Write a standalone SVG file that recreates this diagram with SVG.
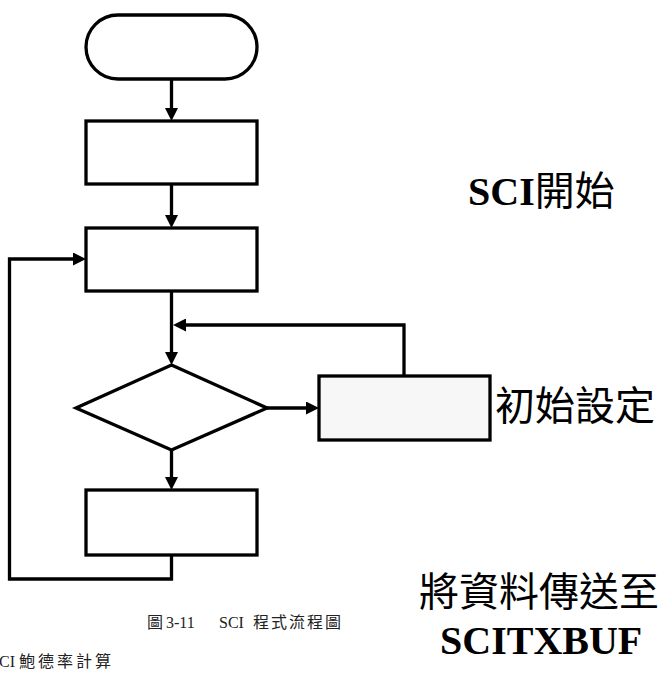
<svg xmlns="http://www.w3.org/2000/svg" width="659" height="695" viewBox="0 0 659 695">
  <style>
    .shape { fill: #ffffff; stroke: #000000; stroke-width: 3.3; stroke-linejoin: miter; }
    .shaded { fill: #f7f7f7; }
    .conn { fill: none; stroke: #000000; stroke-width: 3.3; marker-end: url(#arrow); }
    .big { font-family: "Noto Sans CJK TC", "Noto Sans CJK SC", sans-serif; font-size: 40px; fill: #000; }
    .bold { font-family: "Liberation Serif", "Times New Roman", serif; font-weight: bold; }
    .cap { font-family: "Liberation Serif", "Noto Sans CJK TC", serif; font-size: 16px; fill: #222; }
  </style>
  <defs>
    <marker id="arrow" viewBox="0 0 13 13" refX="8" refY="6.5" markerWidth="13" markerHeight="13" markerUnits="userSpaceOnUse" orient="auto">
      <path d="M0,0 L13,6.5 L0,13 Z" fill="#000"/>
    </marker>
  </defs>

  <g id="connectors">
    <line class="conn" x1="171.5" y1="79" x2="171.5" y2="116"/>
    <line class="conn" x1="171.5" y1="184" x2="171.5" y2="223"/>
    <line class="conn" x1="171.5" y1="291" x2="171.5" y2="360"/>
    <line class="conn" x1="171.5" y1="450" x2="171.5" y2="485"/>
    <line class="conn" x1="267" y1="408" x2="314" y2="408"/>
    <polyline class="conn" points="404,376 404,325 178,325"/>
    <polyline class="conn" points="171.5,555 171.5,579 9.5,579 9.5,259 81,259"/>
  </g>

  <g id="start">
    <rect class="shape" x="86" y="15" width="171" height="64" rx="32" ry="32"/>
  </g>
  <g id="box1">
    <rect class="shape" x="86" y="121" width="171" height="63"/>
  </g>
  <g id="box2">
    <rect class="shape" x="86" y="228" width="171" height="63"/>
  </g>
  <g id="decision">
    <polygon class="shape" points="171.5,365 267,408 171.5,450 76,408"/>
  </g>
  <g id="box3">
    <rect class="shape shaded" x="319" y="376" width="171" height="64"/>
  </g>
  <g id="box4">
    <rect class="shape" x="86" y="490" width="171" height="65"/>
  </g>

  <g id="labels">
    <text class="big" x="468" y="205" font-size="41"><tspan class="bold">SCI</tspan>開始</text>
    <text class="big" x="495" y="420">初始設定</text>
    <text class="big" x="419" y="606" font-size="38">將資料傳送至</text>
    <text class="big bold" x="440" y="654">SCITXBUF</text>
    <text class="cap" y="628"><tspan x="147">圖</tspan><tspan x="166">3-11</tspan><tspan x="219">SCI</tspan><tspan x="253" letter-spacing="2">程式流程圖</tspan></text>
    <text class="cap" x="-1" y="667">CI <tspan letter-spacing="3">鮑德率計算</tspan></text>
  </g>
</svg>
